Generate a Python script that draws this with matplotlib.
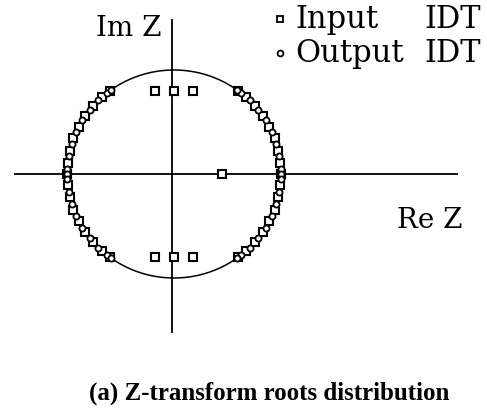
import numpy as np
import matplotlib.pyplot as plt

# root angles on the unit circle (degrees), upper half; lower half are conjugates
in_arc_deg = [0, 6, 13, 20, 27, 34, 41, 48, 53,
              180, 174, 167, 160, 153, 146, 139, 132, 127]
out_arc_deg = [0, 3, 10, 17, 24, 31, 38, 45, 51, 54,
               180, 177, 170, 163, 156, 149, 142, 135, 129, 126]

# input IDT roots off the circle
in_re = [-0.18, 0.0, 0.18, -0.18, 0.0, 0.18, 0.45]
in_im = [0.80, 0.80, 0.80, -0.80, -0.80, -0.80, 0.0]

fig = plt.figure(figsize=(4.87, 4.08), dpi=100)
ax = fig.add_axes([0, 0, 1, 1])
ax.set_xlim(-1.626, 2.925)
ax.set_ylim(-2.25, 1.673)
ax.axis('off')

serif = ['DejaVu Serif']

# axes
ax.plot([-1.486, 2.645], [0, 0], color='black', lw=1.3)
ax.plot([-0.019, -0.019], [1.48, -1.52], color='black', lw=1.3)

# unit circle
t = np.linspace(0, 2 * np.pi, 400)
ax.plot(np.cos(t), np.sin(t), color='black', lw=1.1)

a_in = np.radians(in_arc_deg)
a_out = np.radians(out_arc_deg)
sq_x = np.concatenate([np.cos(a_in), np.cos(a_in), in_re])
sq_y = np.concatenate([np.sin(a_in), -np.sin(a_in), in_im])
ci_x = np.concatenate([np.cos(a_out), np.cos(a_out)])
ci_y = np.concatenate([np.sin(a_out), -np.sin(a_out)])

ax.plot(sq_x, sq_y, 's', ms=5.3, mfc='white', mec='black', mew=1.5)
ax.plot(ci_x, ci_y, 'o', ms=4.4, mfc='white', mec='black', mew=1.3)

# labels
ax.text(-0.12, 1.40, 'Im Z', fontsize=20, family=serif, ha='right', va='center')
ax.text(2.70, -0.45, 'Re Z', fontsize=20, family=serif, ha='right', va='center')

# legend
ax.plot([0.99], [1.49], 's', ms=4.8, mfc='white', mec='black', mew=1.3)
ax.plot([0.99], [1.16], 'o', ms=4.2, mfc='white', mec='black', mew=1.3)
ax.text(1.13, 1.49, 'Input', fontsize=22, family=serif, va='center')
ax.text(1.13, 1.16, 'Output', fontsize=22, family=serif, va='center')
ax.text(2.87, 1.49, 'IDT', fontsize=22, family=serif, ha='right', va='center')
ax.text(2.87, 1.16, 'IDT', fontsize=22, family=serif, ha='right', va='center')

fig.text(0.552, 0.037, '(a) Z-transform roots distribution', fontsize=18,
         family='Liberation Serif', weight='bold', ha='center', va='center')

fig.savefig('out.png', dpi=100)
